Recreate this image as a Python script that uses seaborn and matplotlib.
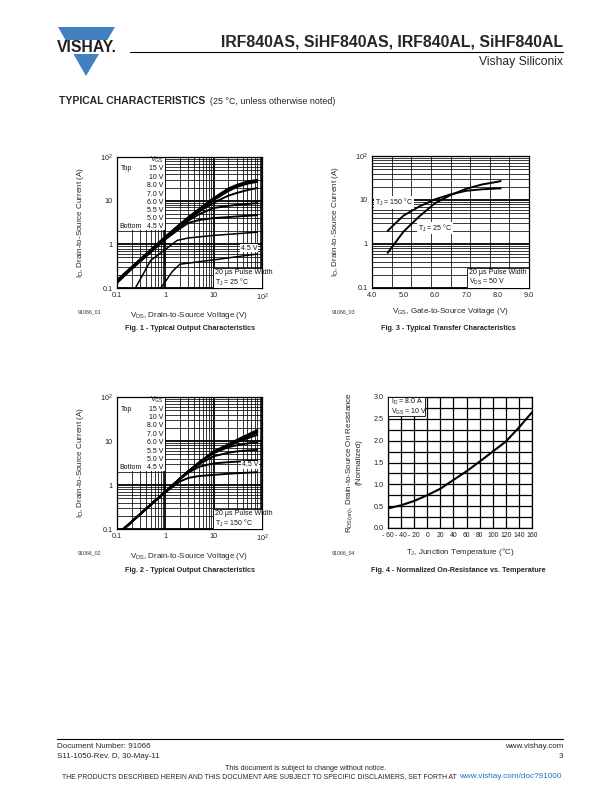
import numpy as np
import matplotlib
matplotlib.use('Agg')
import matplotlib.pyplot as plt
import seaborn as sns
from matplotlib.patches import Rectangle, Polygon
from matplotlib.ticker import LogLocator, NullFormatter, FixedLocator, MultipleLocator

# --- data ---

# Fig. 1 - output characteristics, TJ = 25 C
fig1_vgs = ['15 V', '10 V', '8.0 V', '7.0 V', '6.0 V', '5.5 V', '5.0 V', '4.5 V']
fig1_vds_hi = [0.1, 0.2, 0.5, 1, 2, 3, 5, 10, 20, 30, 50, 80]
fig1_id_15 = [0.15, 0.3, 0.75, 1.5, 2.9, 4.2, 6.5, 11.5, 19, 23, 27.5, 30]
fig1_id_10 = [0.15, 0.3, 0.74, 1.47, 2.85, 4.1, 6.3, 11, 18, 22, 26, 28.5]
fig1_id_8 = [0.145, 0.29, 0.72, 1.44, 2.8, 4.0, 6.0, 10.3, 16.5, 20.5, 24.5, 27]
fig1_id_7 = [0.14, 0.28, 0.70, 1.40, 2.7, 3.8, 5.6, 9.0, 13, 15, 17.5, 19.5]
fig1_id_6 = [0.14, 0.28, 0.68, 1.35, 2.5, 3.5, 4.9, 6.8, 7.6, 8.0, 8.4, 8.8]
fig1_id_55 = [0.13, 0.27, 0.66, 1.3, 2.3, 3.1, 3.6, 4.0, 4.2, 4.35, 4.5, 4.65]
fig1_vds_5 = [0.24, 0.5, 1.0, 1.75, 3, 10, 30, 80]
fig1_id_5 = [0.1, 0.43, 0.76, 1.23, 1.4, 1.6, 1.75, 1.9]
fig1_vds_45 = [0.8, 1.0, 1.4, 2.0, 5, 10, 30, 80]
fig1_id_45 = [0.1, 0.14, 0.24, 0.35, 0.4, 0.44, 0.52, 0.6]

# Fig. 2 - output characteristics, TJ = 150 C
fig2_vds = [0.137, 0.2, 0.5, 1, 2, 3, 5, 10, 20, 30, 50, 80]
fig2_id_15 = [0.1, 0.145, 0.36, 0.7, 1.4, 2.05, 3.25, 5.8, 8.4, 10.6, 13.9, 17.8]
fig2_id_10 = [0.1, 0.145, 0.36, 0.7, 1.4, 2.05, 3.2, 5.7, 8.2, 10.2, 13.2, 16.8]
fig2_id_8 = [0.1, 0.145, 0.36, 0.7, 1.4, 2.05, 3.2, 5.6, 8.0, 9.8, 12.5, 15.5]
fig2_id_7 = [0.1, 0.145, 0.36, 0.7, 1.4, 2.05, 3.2, 5.5, 7.7, 9.3, 11.5, 13.8]
fig2_id_6 = [0.1, 0.145, 0.36, 0.7, 1.4, 2.05, 3.2, 5.3, 7.2, 8.0, 8.8, 9.3]
fig2_id_55 = [0.1, 0.145, 0.36, 0.7, 1.4, 2.0, 3.0, 4.5, 5.4, 5.8, 6.1, 6.3]
fig2_id_5 = [0.1, 0.145, 0.36, 0.7, 1.35, 1.9, 2.6, 3.1, 3.3, 3.4, 3.5, 3.6]
fig2_id_45 = [0.1, 0.145, 0.35, 0.68, 1.2, 1.45, 1.6, 1.7, 1.8, 1.85, 1.9, 1.95]

# Fig. 3 - transfer characteristics
fig3_vgs = [4.5, 5.0, 5.5, 6.0, 6.5, 7.0, 7.5, 8.0, 8.1]
fig3_id_25 = [0.63, 1.9, 4.2, 8.4, 12.9, 18, 22.5, 26, 27]
fig3_id_150 = [2.0, 4.4, 7.1, 10.3, 13.4, 16.2, 17.5, 18.3, 18.4]

# Fig. 4 - normalized on-resistance vs temperature
fig4_tj = [-60, -40, -20, 0, 20, 40, 60, 80, 100, 120, 140, 160]
fig4_rds = [0.45, 0.52, 0.62, 0.75, 0.9, 1.1, 1.3, 1.52, 1.75, 1.98, 2.3, 2.65]

# --- style ---
sns.set_style('white')
plt.rcParams['font.family'] = ['Liberation Sans', 'DejaVu Sans']
plt.rcParams['mathtext.fontset'] = 'custom'
plt.rcParams['mathtext.rm'] = 'Liberation Sans'
plt.rcParams['mathtext.it'] = 'Liberation Sans:italic'
plt.rcParams['mathtext.bf'] = 'Liberation Sans:bold'

DEG = '\u00b0'
MU = '\u00b5'

W, H = 612, 792
fig = plt.figure(figsize=(6.12, 7.92), dpi=100)


def fx(x):
    return x / W


def fy(y):
    return 1 - y / H


def ftext(x, y, s, **kw):
    fig.text(fx(x), fy(y), s, **kw)


def make_axes(left, top, right, bottom):
    ax = fig.add_axes([fx(left), fy(bottom), (right - left) / W, (bottom - top) / H])
    ax.set_axisbelow(True)
    for sp in ax.spines.values():
        sp.set_linewidth(0.9)
        sp.set_color('black')
    ax.tick_params(which='both', length=0, labelsize=5.2, pad=3, colors='#222222')
    return ax


def log_grid(ax, xlog=True):
    if xlog:
        ax.xaxis.set_minor_locator(LogLocator(base=10, subs=np.arange(2, 10)))
        ax.xaxis.set_minor_formatter(NullFormatter())
    ax.yaxis.set_minor_locator(LogLocator(base=10, subs=np.arange(2, 10)))
    ax.yaxis.set_minor_formatter(NullFormatter())
    ax.grid(True, which='major', color='black', lw=1.3)
    ax.grid(True, which='minor', color='black', lw=0.55)


def curve(ax, x, y, lw=1.4):
    sns.lineplot(x=x, y=y, ax=ax, color='black', lw=lw, estimator=None,
                 sort=False, legend=False, zorder=3)


def note(ax, x, y, s, **kw):
    ax.text(x, y, s, transform=ax.transAxes, fontsize=5, color='#111111',
            zorder=5, **kw)


log_ticks = [0.1, 1, 10, 100]
log_labels = ['0.1', '1', '10', r'$\mathregular{10^2}$']

# ---------- Fig. 1 ----------
ax1 = make_axes(117, 157, 262, 288)
ax1.set_xscale('log')
ax1.set_yscale('log')
for ys in [fig1_id_15, fig1_id_10, fig1_id_8, fig1_id_7, fig1_id_6, fig1_id_55]:
    curve(ax1, fig1_vds_hi, ys)
curve(ax1, fig1_vds_5, fig1_id_5, lw=1.1)
curve(ax1, fig1_vds_45, fig1_id_45, lw=1.1)
ax1.set_xlim(0.1, 100)
ax1.set_ylim(0.1, 100)

# ---------- Fig. 2 ----------
ax2 = make_axes(117, 397, 262, 529)
ax2.set_xscale('log')
ax2.set_yscale('log')
for ys in [fig2_id_15, fig2_id_10, fig2_id_8, fig2_id_7, fig2_id_6, fig2_id_55,
           fig2_id_5, fig2_id_45]:
    curve(ax2, fig2_vds, ys)
ax2.set_xlim(0.1, 100)
ax2.set_ylim(0.1, 100)

for ax, tj in [(ax1, '25'), (ax2, '150')]:
    ax.set_xticks(log_ticks)
    ax.set_xticklabels(log_labels)
    ax.set_yticks(log_ticks)
    ax.set_yticklabels(log_labels)
    log_grid(ax)
    # VGS list box
    ax.add_patch(Rectangle((0, 0.44), 0.33, 0.56, transform=ax.transAxes,
                           facecolor='white', edgecolor='none', zorder=2))
    rows = [160, 169, 177.3, 185.7, 194, 202.3, 210.7, 219, 226.7]
    ya = [(288 - r) / 131 for r in rows]
    note(ax, 0.318, ya[0], r'$\mathregular{V_{GS}}$', ha='right', va='center')
    for lab, yy in zip(fig1_vgs, ya[1:]):
        note(ax, 0.318, yy, lab, ha='right', va='center')
    note(ax, 0.03, ya[1], 'Top', ha='left', va='center')
    note(ax, 0.015, ya[-1], 'Bottom', ha='left', va='center')
    ax.add_patch(Rectangle((0.662, 0), 0.338, 0.155, transform=ax.transAxes,
                           facecolor='white', edgecolor='black', lw=0.6, zorder=4))
    note(ax, 0.675, 0.118, '20 ' + MU + 's Pulse Width', ha='left', va='center')
    note(ax, 0.675, 0.045, r'$\mathregular{T_J}$ = ' + tj + ' ' + DEG + 'C',
         ha='left', va='center')
    ax.set_xlabel(r'$\mathregular{V_{DS}}$, Drain-to-Source Voltage (V)', fontsize=5.8, labelpad=5)
    ax.set_ylabel(r'$\mathregular{I_D}$, Drain-to-Source Current (A)', fontsize=5.8, labelpad=10)

note(ax1, 0.91, 0.305, '4.5 V', ha='center', va='center',
     bbox=dict(facecolor='white', edgecolor='none', pad=0.5))
note(ax2, 0.917, 0.485, '4.5 V', ha='center', va='center',
     bbox=dict(facecolor='white', edgecolor='none', pad=0.5))

# ---------- Fig. 3 ----------
ax3 = make_axes(372, 156, 529, 288)
ax3.set_yscale('log')
curve(ax3, fig3_vgs, fig3_id_25)
curve(ax3, fig3_vgs, fig3_id_150)
ax3.set_xlim(4.0, 9.0)
ax3.set_ylim(0.1, 100)
ax3.set_xticks([4, 5, 6, 7, 8, 9])
ax3.set_xticklabels(['4.0', '5.0', '6.0', '7.0', '8.0', '9.0'])
ax3.xaxis.set_minor_locator(FixedLocator(np.linspace(4, 9, 9)))
ax3.set_yticks(log_ticks)
ax3.set_yticklabels(log_labels)
log_grid(ax3, xlog=False)
ax3.grid(False, axis='x', which='major')
note(ax3, 0.02, 0.65, r'$\mathregular{T_J}$ = 150 ' + DEG + 'C', ha='left', va='center',
     bbox=dict(facecolor='white', edgecolor='none', pad=0.6))
note(ax3, 0.29, 0.455, r'$\mathregular{T_J}$ = 25 ' + DEG + 'C', ha='left', va='center',
     bbox=dict(facecolor='white', edgecolor='none', pad=0.6))
ax3.add_patch(Rectangle((0.605, 0), 0.395, 0.155, transform=ax3.transAxes,
                        facecolor='white', edgecolor='black', lw=0.6, zorder=4))
note(ax3, 0.62, 0.118, '20 ' + MU + 's Pulse Width', ha='left', va='center')
note(ax3, 0.62, 0.045, r'$\mathregular{V_{DS}}$ = 50 V', ha='left', va='center')
ax3.set_xlabel(r'$\mathregular{V_{GS}}$, Gate-to-Source Voltage (V)', fontsize=5.8, labelpad=5)
ax3.set_ylabel(r'$\mathregular{I_D}$, Drain-to-Source Current (A)', fontsize=5.8, labelpad=10)

# ---------- Fig. 4 ----------
ax4 = make_axes(388, 397, 532, 528)
curve(ax4, fig4_tj, fig4_rds, lw=1.5)
ax4.set_xlim(-60, 160)
ax4.set_ylim(0, 3.0)
ax4.set_xticks(np.arange(-60, 161, 20))
ax4.set_xticklabels([('- %d' % -t) if t < 0 else str(t) for t in range(-60, 161, 20)],
                    fontsize=4.9)
ax4.set_yticks(np.arange(0, 3.01, 0.5))
ax4.set_yticklabels(['%.1f' % v for v in np.arange(0, 3.01, 0.5)])
ax4.yaxis.set_minor_locator(MultipleLocator(0.25))
ax4.grid(True, which='both', color='black', lw=0.9)
ax4.add_patch(Rectangle((0, 0.855), 0.26, 0.145, transform=ax4.transAxes,
                        facecolor='white', edgecolor='black', lw=0.6, zorder=4))
note(ax4, 0.02, 0.965, r'$\mathregular{I_D}$ = 8.0 A', ha='left', va='center')
note(ax4, 0.02, 0.89, r'$\mathregular{V_{GS}}$ = 10 V', ha='left', va='center')
ax4.set_xlabel(r'$\mathregular{T_J}$, Junction Temperature (' + DEG + 'C)', fontsize=5.8, labelpad=5)
ax4.set_ylabel('$\\mathregular{R_{DS(on)}}$, Drain-to-Source On Resistance\n(Normalized)',
               fontsize=5.8, labelpad=8, multialignment='center')

# figure codes and captions
for x, y, s in [(78, 312, '91066_01'), (332, 312, '91066_03'),
                (78, 553, '91066_02'), (332, 553, '91066_04')]:
    ftext(x, y, s, fontsize=3.8, color='#333333', va='center')
for x, y, s in [(190, 328, 'Fig. 1 - Typical Output Characteristics'),
                (448, 328, 'Fig. 3 - Typical Transfer Characteristics'),
                (190, 571, 'Fig. 2 - Typical Output Characteristics'),
                (458, 571, 'Fig. 4 - Normalized On-Resistance vs. Temperature')]:
    ftext(x, y, s, fontsize=5.2, fontweight='bold', ha='center', va='center')

# ---------- header ----------
blue = '#4380C2'
fig.patches.append(Polygon([(fx(58), fy(27)), (fx(115), fy(27)), (fx(86), fy(76))],
                           closed=True, facecolor=blue, edgecolor='none',
                           transform=fig.transFigure, figure=fig))
fig.patches.append(Rectangle((fx(50), fy(54)), (125 - 50) / W, 14 / H,
                             facecolor='white', edgecolor='none',
                             transform=fig.transFigure, figure=fig))
ftext(86.5, 47, 'VISHAY.', fontsize=11.3, fontweight='bold', color='#231F20',
      ha='center', va='center')
ftext(563, 42, 'IRF840AS, SiHF840AS, IRF840AL, SiHF840AL', fontsize=11.4,
      fontweight='bold', ha='right', va='center')
fig.add_artist(plt.Line2D([fx(130), fx(563)], [fy(52), fy(52)], color='black', lw=0.8))
ftext(563, 62, 'Vishay Siliconix', fontsize=8.7, ha='right', va='center')
ftext(59, 101, 'TYPICAL CHARACTERISTICS', fontsize=7.5, fontweight='bold', va='center')
ftext(210, 101, '(25 ' + DEG + 'C, unless otherwise noted)', fontsize=6.4, va='center')

# ---------- footer ----------
fig.add_artist(plt.Line2D([fx(57), fx(563)], [fy(739), fy(739)], color='black', lw=0.8))
ftext(57, 747, 'Document Number: 91066', fontsize=5.8, va='center')
ftext(57, 757, 'S11-1050-Rev. D, 30-May-11', fontsize=5.8, va='center')
ftext(563, 747, 'www.vishay.com', fontsize=5.8, ha='right', va='center')
ftext(563, 757, '3', fontsize=5.8, ha='right', va='center')
ftext(306, 769, 'This document is subject to change without notice.', fontsize=5.2,
      ha='center', va='center')
ftext(459, 777, 'THE PRODUCTS DESCRIBED HEREIN AND THIS DOCUMENT ARE SUBJECT TO SPECIFIC DISCLAIMERS, SET FORTH AT ',
      fontsize=4.93, ha='right', va='center')
ftext(459, 777, 'www.vishay.com/doc?91000', fontsize=5.9, ha='left', va='center',
      color='#1F6FC0')

fig.savefig('out.png', dpi=100)
